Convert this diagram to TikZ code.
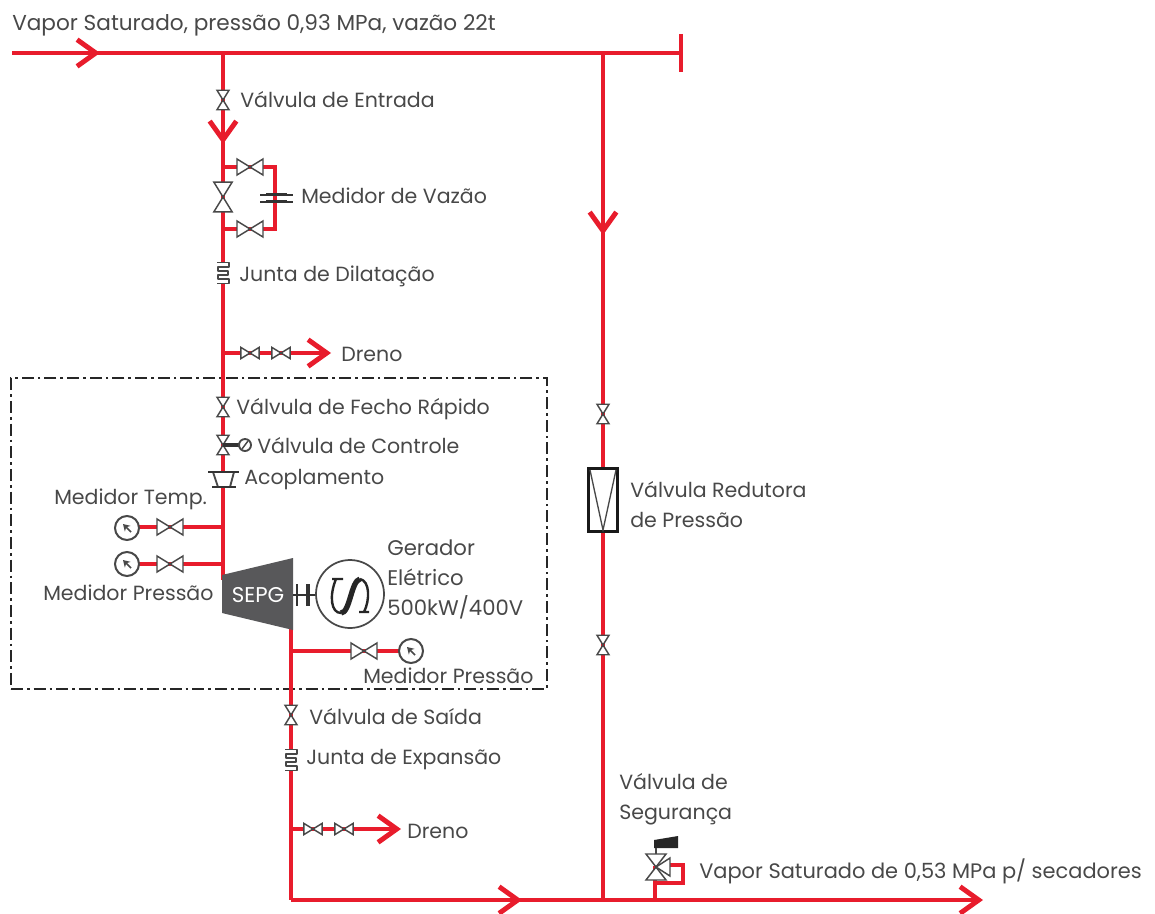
\documentclass[tikz,border=0pt]{standalone}
\usepackage{fontspec}
\setmainfont{Poppins}
\usetikzlibrary{arrows.meta}
\definecolor{pipered}{RGB}{232,28,44}
\definecolor{inkgray}{RGB}{72,72,72}
\definecolor{turbgray}{RGB}{88,88,90}
\tikzset{
  pipe/.style={draw=pipered,line width=3.7pt},
  thinpipe/.style={draw=pipered,line width=3pt},
  pipearrow/.style={pipe,-{Straight Barb[length=14pt,width=20pt]}},
  label/.style={anchor=west,inner sep=0pt,text=inkgray,font=\fontsize{15.4}{22.5}\selectfont,align=left},
  symb/.style={draw=inkgray,line width=1.1pt,fill=white,line join=miter},
  pics/valve/.style={code={
    \draw[symb] (-13,-8) -- (13,8) -- (13,-8) -- (-13,8) -- cycle;}},
  pics/gauge/.style={code={
    \draw[symb,line width=1.5pt] (0,0) circle (12);
    \draw[draw=inkgray,line width=1.3pt,-{Stealth[length=5pt,width=6pt]}] (4,-4) -- (-4,4);}},
  pics/junta/.style={code={
    \fill[white] (-6,-11) rectangle (6,11);
    \draw[inkgray,line width=1.2pt,line join=round] (-6,-10.5) -- (6,-10.5) -- (6,-6) -- (-5,-6) -- (-5,-2) -- (5,-2) -- (5,2) -- (-5,2) -- (-5,6) -- (6,6) -- (6,10.5) -- (-6,10.5);}}
}
\begin{document}
\begin{tikzpicture}[x=0.75pt,y=0.75pt,yscale=-1]
\useasboundingbox (0,0) rectangle (1155,913);

% Pipe points
\coordinate (inlet) at (12,53);
\coordinate (inletTip) at (100,53);
\coordinate (teeLeft) at (223,53);
\coordinate (teeRight) at (603,53);
\coordinate (headerEnd) at (681,53);
\coordinate (headerTop) at (681,34);
\coordinate (headerBottom) at (681,72);
\coordinate (mainTip) at (223,144);
\coordinate (bypassTop) at (223,167);
\coordinate (bypassTopR) at (275,167);
\coordinate (bypassBot) at (223,229);
\coordinate (bypassBotR) at (275,229);
\coordinate (drainA) at (223,353);
\coordinate (drainATip) at (331,353);
\coordinate (tempTee) at (223,527);
\coordinate (tempEnd) at (127,527);
\coordinate (presTee) at (223,564);
\coordinate (presEnd) at (127,564);
\coordinate (mainEnd) at (223,580);
\coordinate (outStart) at (291,628);
\coordinate (outTee) at (291,651);
\coordinate (outEnd) at (411,651);
\coordinate (drainB) at (291,829);
\coordinate (drainBTip) at (401,829);
\coordinate (outCorner) at (291,900);
\coordinate (outTip) at (522,900);
\coordinate (reliefTip) at (603,235);
\coordinate (reliefEnd) at (603,900);
\coordinate (safeTee) at (655,900);
\coordinate (safeMid) at (655,883);
\coordinate (safeTop) at (655,866);
\coordinate (safeRight) at (683,883);
\coordinate (safeUp) at (683,865);
\coordinate (safeIn) at (665,865);
\coordinate (exitTip) at (983,900);

% Dash-dot frame
\node (frame) [draw=black!85,line width=1.2pt,dash pattern=on 9pt off 3pt on 2pt off 3pt,minimum width=402pt,minimum height=233pt,inner sep=0pt] at (279,533.5) {};

% Pipes
\draw[pipe] (inlet) -- (headerEnd);
\draw[pipearrow] (inlet) -- (inletTip);
\draw[pipe] (headerTop) -- (headerBottom);
\draw[pipe] (teeLeft) -- (mainEnd);
\draw[pipearrow] (teeLeft) -- (mainTip);
\draw[thinpipe] (bypassTop) -- (bypassTopR) -- (bypassBotR) -- (bypassBot);
\draw[pipearrow] (drainA) -- (drainATip);
\draw[pipe] (tempTee) -- (tempEnd);
\draw[pipe] (presTee) -- (presEnd);
\draw[pipe] (teeRight) -- (reliefEnd);
\draw[pipearrow] (teeRight) -- (reliefTip);
\draw[pipe] (outStart) -- (outCorner);
\draw[pipe] (outTee) -- (outEnd);
\draw[pipearrow] (drainB) -- (drainBTip);
\draw[pipearrow] (outCorner) -- (outTip);
\draw[pipearrow] (outCorner) -- (exitTip);
\draw[pipe] (safeTee) -- (safeTop);
\draw[thinpipe] (safeMid) -- (safeRight) -- (safeUp) -- (safeIn);

% Valves
\pic (valveEntrada) [rotate=90,scale=0.75] at (223,100) {valve};
\pic (valveByTop) at (250,167) {valve};
\pic (valveByBot) at (250,229) {valve};
\pic (valveMeter) [rotate=90,scale=1.15] at (223,197) {valve};
\pic (valveDrA) [scale=0.7] at (250,353) {valve};
\pic (valveDrB) [scale=0.7] at (281,353) {valve};
\pic (valveFecho) [rotate=90,scale=0.75] at (223,407) {valve};
\pic (valveTemp) at (170,527) {valve};
\pic (valvePres) at (170,564) {valve};
\pic (valveOut) at (364,651) {valve};
\pic (valveSaida) [rotate=90,scale=0.75] at (291,715) {valve};
\pic (valveDrC) [scale=0.7] at (313,829) {valve};
\pic (valveDrD) [scale=0.7] at (344,829) {valve};
\pic (valveRedA) [rotate=90,scale=0.75] at (603,414) {valve};
\pic (valveRedB) [rotate=90,scale=0.75] at (603,645) {valve};

% Control valve
\pic (valveControle) [rotate=90,scale=0.75] at (223,445) {valve};
\draw[black!80,line width=3pt] (223,445) -- (240,445);
\draw[symb,line width=1.4pt] (245,445) circle (6);
\draw[inkgray,line width=1.1pt] (242,449) -- (248,441);

% Flow meter
\draw[black!80,line width=1.4pt] (260,195) -- (293,195) (260,202) -- (293,202);
\draw[black!80,line width=2.2pt] (266,194) -- (287,194) (266,201) -- (287,201);

% Expansion joints
\pic (juntaDil) at (223,273) {junta};
\pic (juntaExp) at (291,760) {junta};

% Coupling
\draw[symb,line width=1.4pt] (213,472) -- (234,472) -- (230,487) -- (218,487) -- cycle;
\draw[black!80,line width=1.6pt] (208,472) -- (239,472) (212,487) -- (236,487);

% Gauges
\pic (gaugeTemp) at (127,528) {gauge};
\pic (gaugePres) at (127,564) {gauge};
\pic (gaugeOut) at (411,651) {gauge};

% Turbine
\fill[turbgray] (222,575) -- (293,558) -- (293,630) -- (222,613) -- cycle;
\node (sepg) [text=white,inner sep=0pt,font=\fontsize{16}{18}\selectfont] at (258,595) {SEPG};

% Generator
\draw[black!80,line width=2pt] (293,595) -- (316,595);
\draw[black!80,line width=2pt] (297,584) -- (297,606);
\draw[black!80,line width=3.4pt] (308,584) -- (308,606);
\node (gerador) [circle,draw=inkgray,line width=1.3pt,fill=white,minimum size=51pt,inner sep=0pt] at (350,594) {};
\draw[black!85,line width=1.8pt] (332,579) -- (343,579) (336,579) .. controls (329,596) and (331,613) .. (341,613);
\draw[black!85,line width=4pt] (341,613) .. controls (350,613) and (351,581) .. (360,579);
\draw[black!85,line width=1.8pt] (360,579) .. controls (370,581) and (370,600) .. (364,612) (359,612) -- (369,612);

% Reducing valve
\node (redutora) [draw=black!90,line width=2.2pt,fill=white,minimum width=22pt,minimum height=47pt,inner sep=0pt] at (603,500) {};
\draw[inkgray,line width=1pt] (590,470) -- (603,530) -- (616,470);

% Safety valve
\fill[black!85] (654,840) -- (678,836) -- (678,848) -- (654,848) -- cycle;
\draw[inkgray,line width=1.6pt] (656,848) -- (656,856);
\draw[symb] (646,854) -- (666,854) -- (646,880) -- (666,880) -- cycle;
\draw[symb] (656,867) -- (670,858) -- (670,876) -- cycle;

% Text Node
\node (lblInlet) [label,font=\fontsize{16.2}{20}\selectfont] at (12,25) {Vapor Saturado, pressão 0,93 MPa, vazão 22t};
\node (lblEntrada) [label] at (240,100) {Válvula de Entrada};
\node (lblVazao) [label] at (301,196) {Medidor de Vazão};
\node (lblDil) [label] at (239,276) {Junta de Dilatação};
\node (lblDrenoA) [label] at (341,354) {Dreno};
\node (lblFecho) [label] at (236,409) {Válvula de Fecho Rápido};
\node (lblControle) [label] at (257,446) {Válvula de Controle};
\node (lblAcop) [label] at (244,480) {Acoplamento};
\node (lblTemp) [label] at (54,499) {Medidor Temp.};
\node (lblPres) [label] at (43,593) {Medidor Pressão};
\node (lblGerador) [label,font=\fontsize{15.9}{22.5}\selectfont] at (387,579) {Gerador\\Elétrico\\500kW/400V};
\node (lblPresOut) [label] at (363,676) {Medidor Pressão};
\node (lblSaida) [label] at (309,717) {Válvula de Saída};
\node (lblExp) [label] at (306,760) {Junta de Expansão};
\node (lblDrenoB) [label] at (407,831) {Dreno};
\node (lblRedutora) [label] at (630,505) {Válvula Redutora\\de Pressão};
\node (lblSeg) [label] at (619,799) {Válvula de\\Segurança};
\node (lblExit) [label,font=\fontsize{15.7}{20}\selectfont] at (699,871) {Vapor Saturado de 0,53 MPa p/ secadores};

\end{tikzpicture}
\end{document}
